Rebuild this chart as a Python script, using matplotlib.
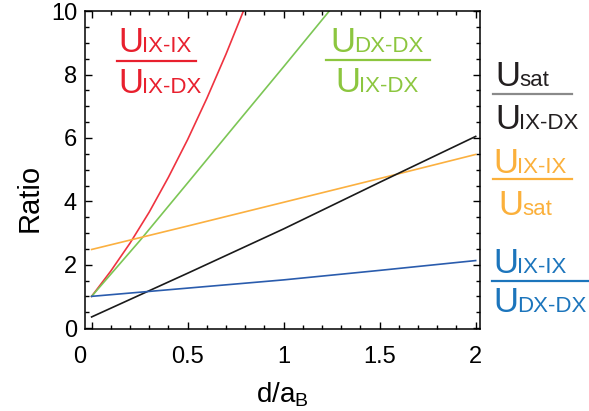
import numpy as np
import matplotlib
matplotlib.use('Agg')
import matplotlib.pyplot as plt
from matplotlib.transforms import Affine2D, ScaledTranslation
from matplotlib.lines import Line2D

plt.rcParams['font.family'] = ['Liberation Sans', 'DejaVu Sans']
plt.rcParams['mathtext.fontset'] = 'custom'
plt.rcParams['mathtext.rm'] = 'Liberation Sans'

# ratios vs layer separation d/a_B
red_x = [0, 0.1, 0.2, 0.3, 0.4, 0.5, 0.6, 0.7, 0.8, 0.85]
red_y = [1.0, 1.80, 2.68, 3.66, 4.76, 5.95, 7.25, 8.65, 10.15, 10.9]   # U_IX-IX / U_IX-DX

green_x = [0, 0.25, 0.5, 0.75, 1.0, 1.25, 1.3]
green_y = [1.0, 2.75, 4.58, 6.42, 8.25, 10.1, 10.5]                   # U_DX-DX / U_IX-DX

d = [0, 0.5, 1.0, 1.5, 2.0]
black_y = [0.35, 1.73, 3.13, 4.60, 6.05]    # U_sat / U_IX-DX
orange_y = [2.48, 3.22, 3.97, 4.72, 5.48]   # U_IX-IX / U_sat
blue_y = [1.0, 1.26, 1.52, 1.82, 2.13]      # U_IX-IX / U_DX-DX

xticks = [0, 0.5, 1, 1.5, 2]
xticklabels = ['0', '0.5', '1', '1.5', '2']
yticks = [0, 2, 4, 6, 8, 10]

W, H = 589, 411
fig = plt.figure(figsize=(W / 100, H / 100), dpi=100)
ax = fig.add_axes([0.1438, 0.1988, 0.6703, 0.7737])

ax.plot(red_x, red_y, color='#ef3340', lw=1.2)
ax.plot(green_x, green_y, color='#7cc655', lw=1.2)
ax.plot(d, orange_y, color='#fbb040', lw=1.2)
ax.plot(d, black_y, color='#1a1a1a', lw=1.2)
ax.plot(d, blue_y, color='#2a5cad', lw=1.2)

ax.set_xlim(-0.036, 2.02)
ax.set_ylim(-0.04, 10)
ax.set_xticks(xticks)
ax.set_xticklabels(xticklabels)
ax.set_xticks(np.arange(0, 2.01, 0.1), minor=True)
ax.set_yticks(yticks)
ax.set_yticks(np.arange(0, 10.01, 0.5), minor=True)
ax.tick_params(which='both', direction='in', top=True, right=True, width=1.0)
ax.tick_params(which='major', length=5, labelsize=17)
ax.tick_params(which='minor', length=3)
ax.tick_params(axis='x', pad=12)
ax.tick_params(axis='y', pad=5.5)
for s in ax.spines.values():
    s.set_linewidth(1.1)

# shift the "0" on the x axis left, clear of the y axis "0"
lab0 = ax.xaxis.get_major_ticks()[0].label1
lab0.set_transform(lab0.get_transform() + ScaledTranslation(-12 / 100, 0, fig.dpi_scale_trans))

ax.set_ylabel('Ratio', fontsize=21)
ax.yaxis.set_label_coords(-0.103, 0.413)
ax.set_xlabel(r'd/a$_{\mathrm{B}}$', fontsize=20)
ax.xaxis.set_label_coords(0.5, -0.16)

# pixel coordinates measured from the top-left corner
px = Affine2D().scale(1 / W, -1 / H).translate(0, 1) + fig.transFigure


def frac(xn, yn, subn, xd, yd, subd, color, x0, x1, yl, lcolor=None):
    for xu, yb, sub in ((xn, yn, subn), (xd, yd, subd)):
        fig.text(xu, yb, 'U', transform=px, fontsize=25, color=color,
                 ha='left', va='baseline')
        fig.text(xu + 24, yb, sub, transform=px, fontsize=16, color=color,
                 ha='left', va='baseline')
    fig.add_artist(Line2D([x0, x1], [yl, yl], transform=px,
                          color=lcolor or color, lw=1.6))


frac(118, 52, 'IX-IX', 118, 93, 'IX-DX', '#e8202e', 116.5, 196, 61)
frac(330, 52, 'DX-DX', 335, 92, 'IX-DX', '#8cc63f', 325.7, 430, 60)
frac(495, 86, 'sat', 495, 128.5, 'IX-DX', '#231f20', 493, 572, 94, '#8a8a8a')
frac(493, 173, 'IX-IX', 498, 215, 'sat', '#fbb03b', 493, 572, 179)
frac(493, 273, 'IX-IX', 493, 312, 'DX-DX', '#1c75bc', 491.7, 588, 281)

fig.savefig('out.png', dpi=100)
